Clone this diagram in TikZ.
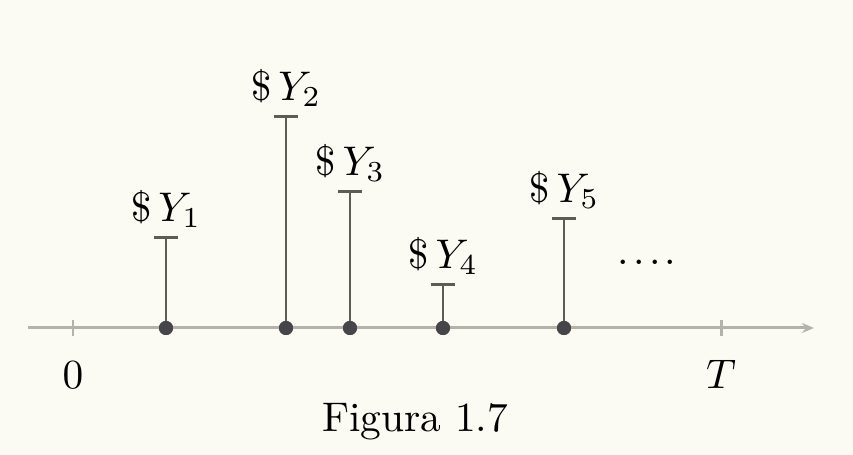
\documentclass[tikz,border=0pt]{standalone}
\usetikzlibrary{arrows.meta}
\definecolor{paper}{HTML}{FBFBF3}
\definecolor{axisgray}{HTML}{B3B3AB}
\definecolor{stemgray}{HTML}{5C5C52}
\definecolor{dotgray}{HTML}{46464A}
\begin{document}
\begin{tikzpicture}[x=0.2415pt,y=0.2415pt,
    axis/.style = {axisgray,line width=0.72pt},
    stem/.style = {stemgray,line width=0.72pt},
    jump/.style = {circle,fill=dotgray,inner sep=0pt,minimum size=3.4pt}]
    \fill[paper] (0,0) rectangle (853,455);
    \useasboundingbox (0,0) rectangle (853,455);

    % time axis
    \coordinate (start) at (28,127);
    \coordinate (end) at (814,127);
    \draw[axis,-{Stealth[length=2.9pt,width=2.4pt]}] (start) -- (end);

    \coordinate (t0) at (73,127);
    \coordinate (tT) at (721,127);
    \draw[axis] ([yshift=-1.9pt]t0) -- ([yshift=1.9pt]t0);
    \draw[axis] ([yshift=-1.9pt]tT) -- ([yshift=1.9pt]tT);
    \node[anchor=base] (zero) at (73,66) {$0$};
    \node[anchor=base] (horizon) at (721,66) {$T$};

    % claims
    \foreach \x/\h/\i in {166/217/1, 286/338/2, 350/263/3, 443/170/4, 564/236/5} {
        \coordinate (h\i) at (\x,\h);
        \node[jump] (p\i) at (\x,127) {};
        \draw[stem] (p\i.center) -- (h\i);
        \draw[stem] ([xshift=-2.9pt]h\i) -- ([xshift=2.9pt]h\i);
        \node[jump] at (p\i) {};
        \node[anchor=base] (y\i) at ([yshift=4.1pt]h\i) {$\$\,Y_{\i}$};
    }

    \node[anchor=base] (more) at (647,190) {.\kern1pt.\kern1pt.\kern1pt.};

    \node[anchor=base] (caption) at (415,23) {Figura 1.7};
\end{tikzpicture}
\end{document}
